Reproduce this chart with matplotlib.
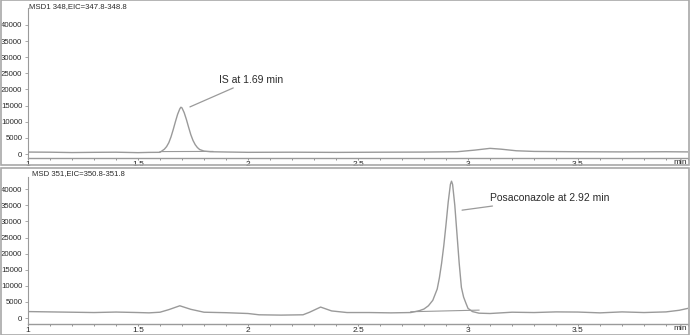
import matplotlib
matplotlib.use('Agg')
import matplotlib.pyplot as plt
from matplotlib.patches import Rectangle

plt.rcParams['font.family'] = ['Liberation Sans', 'DejaVu Sans']

# trace 1: MSD1 348 (internal standard)
t1 = [1.00, 1.10, 1.20, 1.30, 1.40, 1.50, 1.55, 1.60, 1.62, 1.63, 1.64, 1.65,
      1.66, 1.67, 1.68, 1.69, 1.695, 1.70, 1.71, 1.72, 1.73, 1.74, 1.75, 1.76,
      1.77, 1.78, 1.80, 1.83, 1.90, 2.00, 2.20, 2.40, 2.60, 2.80, 2.95, 3.03,
      3.10, 3.15, 3.22, 3.30, 3.50, 3.70, 3.90, 4.00]
y1 = [600, 560, 450, 520, 560, 420, 500, 520, 1500, 2300, 3500, 5300,
      7550, 10000, 12300, 14000, 14500, 14300, 12800, 10700, 8300, 6000, 4200, 2900,
      2000, 1400, 900, 700, 620, 520, 560, 500, 560, 600, 700, 1200,
      1750, 1500, 1000, 800, 700, 650, 700, 650]
base1_t = [1.60, 1.84]
base1_y = [750, 800]

# trace 2: MSD 351 (posaconazole)
t2 = [1.00, 1.10, 1.20, 1.30, 1.40, 1.50, 1.55, 1.60, 1.64, 1.69, 1.74, 1.80,
      1.90, 2.00, 2.05, 2.15, 2.25, 2.28, 2.33, 2.38, 2.45, 2.55, 2.65, 2.74,
      2.78, 2.80, 2.82, 2.84, 2.86, 2.87, 2.88, 2.89, 2.90, 2.91, 2.92, 2.925,
      2.93, 2.94, 2.95, 2.96, 2.97, 2.98, 2.99, 3.00, 3.02, 3.05, 3.10, 3.20,
      3.30, 3.40, 3.50, 3.60, 3.70, 3.80, 3.90, 3.96, 4.00]
y2 = [2000, 1900, 1800, 1700, 1850, 1700, 1600, 1800, 2600, 3800, 2700, 1800,
      1650, 1400, 1000, 900, 1000, 1800, 3400, 2200, 1700, 1700, 1600, 1700,
      2300, 2800, 3800, 5500, 9000, 12500, 17000, 22500, 29000, 36000, 41500, 42500,
      41500, 35000, 26000, 17000, 9500, 6500, 4700, 3000, 2000, 1500, 1400, 1800,
      1700, 1900, 1850, 1600, 1900, 1700, 1900, 2400, 3000]
base2_t = [2.74, 3.05]
base2_y = [1950, 2450]

yticks = [0, 5000, 10000, 15000, 20000, 25000, 30000, 35000, 40000]
xmajor = [1, 1.5, 2, 2.5, 3, 3.5]
xlabels = ['1', '1.5', '2', '2.5', '3', '3.5']

W, H = 690, 335
fig = plt.figure(figsize=(W / 100, H / 100), dpi=100)

line_c = '#9a9a9a'
axis_c = '#9a9a9a'
text_c = '#2a2a2a'


def panel(bottom_px, top_px, ylo, yhi):
    ax = fig.add_axes([28 / W, (H - bottom_px) / H, 660 / W, (bottom_px - top_px) / H])
    ax.set_xlim(1, 4)
    ax.set_ylim(ylo, yhi)
    for s in ['top', 'right']:
        ax.spines[s].set_visible(False)
    ax.spines['left'].set_linestyle((0, (1, 1)))
    ax.spines['left'].set_color(axis_c)
    ax.spines['left'].set_linewidth(0.8)
    ax.spines['bottom'].set_color(axis_c)
    ax.spines['bottom'].set_linewidth(1.0)
    ax.set_yticks(yticks)
    ax.set_yticklabels([str(v) for v in yticks])
    ax.set_xticks(xmajor)
    ax.set_xticklabels(xlabels)
    ax.set_xticks([1 + 0.1 * i for i in range(31)], minor=True)
    ax.tick_params(axis='y', length=2, width=0.6, color=axis_c, pad=2,
                   labelsize=5.6, labelcolor=text_c)
    ax.tick_params(axis='x', which='both', length=1.5, width=0.6, color='#808080',
                   pad=0.3, labelsize=6, labelcolor=text_c)
    ax.text(0.998, -0.008, 'min', transform=ax.transAxes, ha='right', va='top',
            fontsize=6, color=text_c)
    ax.patch.set_alpha(0)
    return ax


ax1 = panel(158, 8, -1240, 45270)
ax1.plot(t1, y1, color=line_c, lw=1.0)
ax1.plot(base1_t, base1_y, color=line_c, lw=0.8)
ax1.annotate('IS at 1.69 min', xy=(1.736, 14600), xytext=(1.868, 22900),
             fontsize=7.5, color=text_c, va='center', ha='left',
             arrowprops=dict(arrowstyle='-', color=line_c, lw=0.9,
                             shrinkA=0, shrinkB=0))

ax2 = panel(324, 177, -1860, 43800)
ax2.plot(t2, y2, color=line_c, lw=1.0)
ax2.plot(base2_t, base2_y, color=line_c, lw=0.8)
ax2.annotate('Posaconazole at 2.92 min', xy=(2.973, 33500), xytext=(3.10, 37200),
             fontsize=7.5, color=text_c, va='center', ha='left',
             arrowprops=dict(arrowstyle='-', color=line_c, lw=0.9,
                             shrinkA=0, shrinkB=0))

fig.text(29 / W, 1 - 7 / H, 'MSD1 348,EIC=347.8-348.8', fontsize=5.6,
         color=text_c, va='center', ha='left')
fig.text(32 / W, 1 - 174 / H, 'MSD 351,EIC=350.8-351.8', fontsize=5.6,
         color=text_c, va='center', ha='left')

# panel frames
for y0, y1p in [(0.5, 165.5), (167.5, 334.5)]:
    fig.add_artist(Rectangle((0.5 / W, 1 - y1p / H), (W - 1.5) / W, (y1p - y0) / H,
                             transform=fig.transFigure, fill=False,
                             edgecolor='#a8a8a8', lw=1.2))

fig.savefig('out.png', dpi=100)
